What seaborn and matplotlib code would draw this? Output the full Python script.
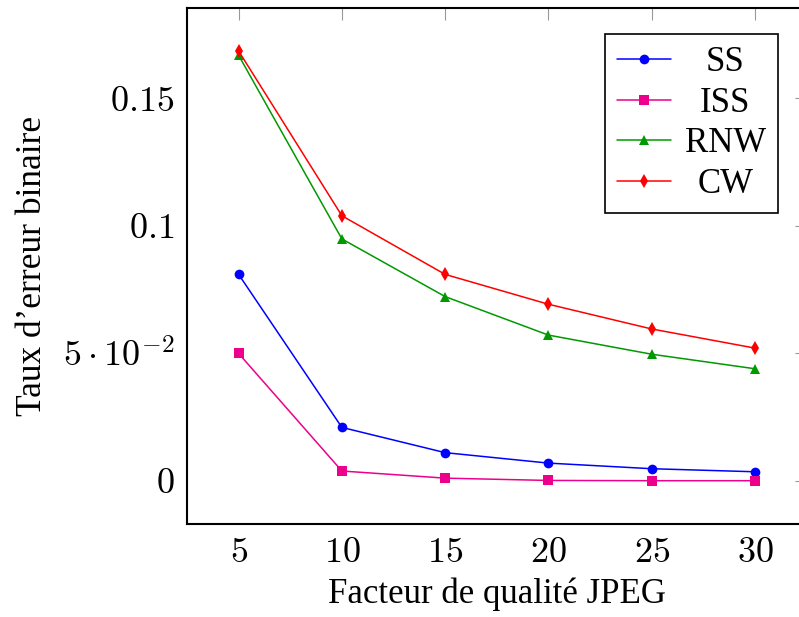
import pandas as pd
import matplotlib
matplotlib.use('Agg')
import matplotlib.pyplot as plt
import seaborn as sns

quality = [5, 10, 15, 20, 25, 30]
ss = [0.0810, 0.0210, 0.0111, 0.0070, 0.0048, 0.0036]
iss = [0.0500, 0.0039, 0.0011, 0.0002, 0.0001, 0.0001]
rnw = [0.1669, 0.0949, 0.0723, 0.0572, 0.0497, 0.0440]
cw = [0.1686, 0.1040, 0.0810, 0.0693, 0.0596, 0.0521]

methods = ['SS', 'ISS', 'RNW', 'CW']
colors = {'SS': '#0000ff', 'ISS': '#ec008c', 'RNW': '#009900', 'CW': '#ff0000'}
markers = {'SS': 'o', 'ISS': 's', 'RNW': '^', 'CW': 'd'}

ytick_vals = [0, 0.05, 0.1, 0.15]
ytick_labels = [r'$0$', r'$5\cdot10^{-2}$', r'$0.1$', r'$0.15$']

df = pd.DataFrame({
    'q': quality * 4,
    'taux': ss + iss + rnw + cw,
    'methode': [m for m in methods for _ in quality],
})

sns.set_style('white')
plt.rcParams['font.family'] = ['Liberation Serif', 'DejaVu Serif']
plt.rcParams['mathtext.fontset'] = 'cm'
plt.rcParams['text.color'] = 'black'
plt.rcParams['axes.labelcolor'] = 'black'
plt.rcParams['xtick.labelcolor'] = 'black'
plt.rcParams['ytick.labelcolor'] = 'black'

fig = plt.figure(figsize=(7.99, 6.17), dpi=100)
ax = fig.add_axes([187 / 799, 93 / 617, 619.5 / 799, 516 / 617])

sns.lineplot(data=df, x='q', y='taux', hue='methode', style='methode',
             palette=colors, markers=markers, dashes=False, ax=ax,
             linewidth=1.1, markersize=7, markeredgewidth=0, legend=True)

ax.set_xlim(2.5, 32.5)
ax.set_ylim(-0.01688, 0.18546)
ax.set_xticks(quality)
ax.set_xticklabels([rf'${q}$' for q in quality])
ax.set_yticks(ytick_vals)
ax.set_yticklabels(ytick_labels)
ax.tick_params(direction='in', length=8.5, width=0.8, color='#999999',
               top=True, right=True, labelsize=26, pad=9)
for s in ax.spines.values():
    s.set_color('black')
    s.set_linewidth(1.5)

ax.set_xlabel('Facteur de qualité JPEG', fontsize=25, labelpad=6)
ax.set_ylabel("Taux d’erreur binaire", fontsize=25.5, labelpad=10)

leg = ax.legend(loc='upper right', bbox_to_anchor=(778 / 799, 1 - 34 / 617),
                bbox_transform=fig.transFigure, fontsize=25, frameon=True,
                fancybox=False, edgecolor='black', framealpha=1,
                handlelength=1.55, handletextpad=0.4, borderpad=0.35,
                labelspacing=0.22, borderaxespad=0)
leg.get_frame().set_linewidth(1.2)

# centre the legend labels like pgfplots does
renderer = fig.canvas.get_renderer()
widths = [t.get_window_extent(renderer).width for t in leg.get_texts()]
wmax = max(widths)
for t, w in zip(leg.get_texts(), widths):
    t.set_x((wmax - w) / 2)

fig.savefig('out.png', dpi=100)
